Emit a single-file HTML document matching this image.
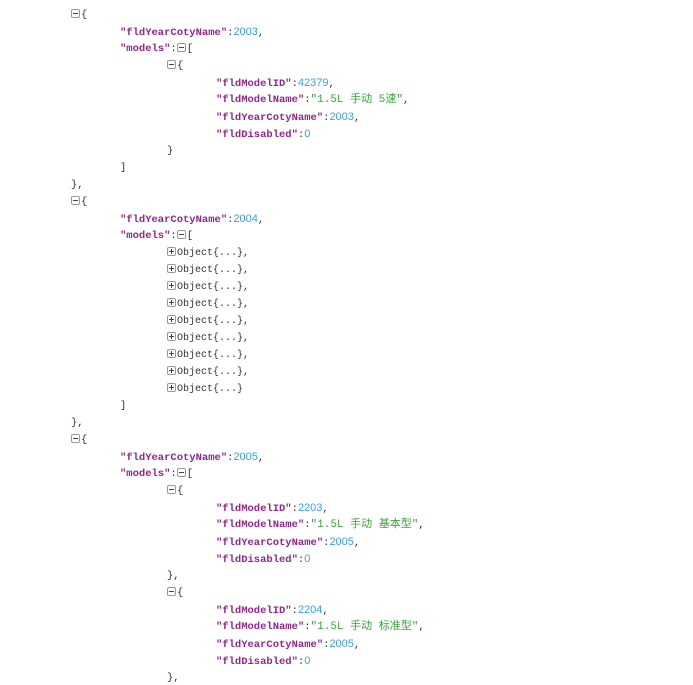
<!DOCTYPE html>
<html><head><meta charset="utf-8"><style>
html,body{margin:0;padding:0;background:#fff;width:693px;height:685px;overflow:hidden;position:relative}
#w{position:absolute;left:0;top:3px;width:693px;height:685px}
.l{position:absolute;white-space:pre;font:bold 10.5px "Liberation Mono","Noto Sans CJK SC",monospace;height:17px;line-height:17px;color:#333}
.k{color:#92278f}.n{color:#3a9fe6;font-weight:normal;font-family:"Liberation Sans",sans-serif;font-size:11px}.s{color:#3aa53a;font-weight:normal;font-family:"Liberation Mono","Noto Sans CJK SC",monospace;font-size:11px}
.p{font-weight:normal;color:#333}
.o{font-weight:normal;font-size:10px;color:#333}
.b{display:inline-block;width:9px;height:9px;box-sizing:border-box;border:1px solid #999;border-radius:2px;position:relative;vertical-align:-1px;margin-right:1px;background:#fff}
.b:before{content:"";position:absolute;left:1px;right:1px;top:3px;height:1px;background:#444}
.b.pl:after{content:"";position:absolute;top:1px;bottom:1px;left:3px;width:1px;background:#444}
</style></head><body><div id="w">
<div class="l p" style="left:71px;top:4px"><span class="b"></span>{</div>
<div class="l" style="left:120px;top:21px"><span class="k">"fldYearCotyName"</span><span class="p">:</span><span class="n">2003</span><span class="p">,</span></div>
<div class="l" style="left:120px;top:38px"><span class="k">"models"</span><span class="p">:</span><span class="b"></span><span class="p">[</span></div>
<div class="l p" style="left:167px;top:55px"><span class="b"></span>{</div>
<div class="l" style="left:216px;top:72px"><span class="k">"fldModelID"</span><span class="p">:</span><span class="n">42379</span><span class="p">,</span></div>
<div class="l" style="left:216px;top:89px"><span class="k">"fldModelName"</span><span class="p">:</span><span class="s">"1.5L 手动 5速"</span><span class="p">,</span></div>
<div class="l" style="left:216px;top:106px"><span class="k">"fldYearCotyName"</span><span class="p">:</span><span class="n">2003</span><span class="p">,</span></div>
<div class="l" style="left:216px;top:123px"><span class="k">"fldDisabled"</span><span class="p">:</span><span class="n">0</span></div>
<div class="l p" style="left:167px;top:140px">}</div>
<div class="l p" style="left:120px;top:157px">]</div>
<div class="l p" style="left:71px;top:174px">},</div>
<div class="l p" style="left:71px;top:191px"><span class="b"></span>{</div>
<div class="l" style="left:120px;top:208px"><span class="k">"fldYearCotyName"</span><span class="p">:</span><span class="n">2004</span><span class="p">,</span></div>
<div class="l" style="left:120px;top:225px"><span class="k">"models"</span><span class="p">:</span><span class="b"></span><span class="p">[</span></div>
<div class="l o" style="left:167px;top:242px"><span class="b pl"></span>Object{...},</div>
<div class="l o" style="left:167px;top:259px"><span class="b pl"></span>Object{...},</div>
<div class="l o" style="left:167px;top:276px"><span class="b pl"></span>Object{...},</div>
<div class="l o" style="left:167px;top:293px"><span class="b pl"></span>Object{...},</div>
<div class="l o" style="left:167px;top:310px"><span class="b pl"></span>Object{...},</div>
<div class="l o" style="left:167px;top:327px"><span class="b pl"></span>Object{...},</div>
<div class="l o" style="left:167px;top:344px"><span class="b pl"></span>Object{...},</div>
<div class="l o" style="left:167px;top:361px"><span class="b pl"></span>Object{...},</div>
<div class="l o" style="left:167px;top:378px"><span class="b pl"></span>Object{...}</div>
<div class="l p" style="left:120px;top:395px">]</div>
<div class="l p" style="left:71px;top:412px">},</div>
<div class="l p" style="left:71px;top:429px"><span class="b"></span>{</div>
<div class="l" style="left:120px;top:446px"><span class="k">"fldYearCotyName"</span><span class="p">:</span><span class="n">2005</span><span class="p">,</span></div>
<div class="l" style="left:120px;top:463px"><span class="k">"models"</span><span class="p">:</span><span class="b"></span><span class="p">[</span></div>
<div class="l p" style="left:167px;top:480px"><span class="b"></span>{</div>
<div class="l" style="left:216px;top:497px"><span class="k">"fldModelID"</span><span class="p">:</span><span class="n">2203</span><span class="p">,</span></div>
<div class="l" style="left:216px;top:514px"><span class="k">"fldModelName"</span><span class="p">:</span><span class="s">"1.5L 手动 基本型"</span><span class="p">,</span></div>
<div class="l" style="left:216px;top:531px"><span class="k">"fldYearCotyName"</span><span class="p">:</span><span class="n">2005</span><span class="p">,</span></div>
<div class="l" style="left:216px;top:548px"><span class="k">"fldDisabled"</span><span class="p">:</span><span class="n">0</span></div>
<div class="l p" style="left:167px;top:565px">},</div>
<div class="l p" style="left:167px;top:582px"><span class="b"></span>{</div>
<div class="l" style="left:216px;top:599px"><span class="k">"fldModelID"</span><span class="p">:</span><span class="n">2204</span><span class="p">,</span></div>
<div class="l" style="left:216px;top:616px"><span class="k">"fldModelName"</span><span class="p">:</span><span class="s">"1.5L 手动 标准型"</span><span class="p">,</span></div>
<div class="l" style="left:216px;top:633px"><span class="k">"fldYearCotyName"</span><span class="p">:</span><span class="n">2005</span><span class="p">,</span></div>
<div class="l" style="left:216px;top:650px"><span class="k">"fldDisabled"</span><span class="p">:</span><span class="n">0</span></div>
<div class="l p" style="left:167px;top:667px">},</div>
</div></body></html>
